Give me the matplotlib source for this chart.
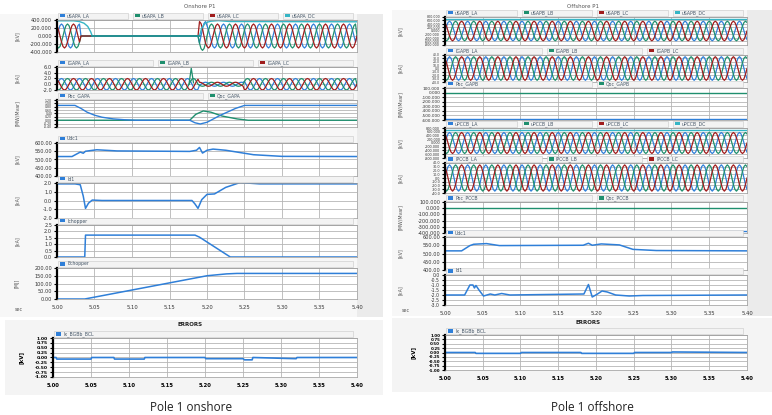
import numpy as np
import matplotlib
matplotlib.use("Agg")
import matplotlib.pyplot as plt
from matplotlib.patches import Rectangle

W, H = 772, 415

# ---- data ----
T_START, T_END = 5.00, 5.40
X_TICKS = [5.00, 5.05, 5.10, 5.15, 5.20, 5.25, 5.30, 5.35, 5.40]
X_LABELS = ["5.00", "5.05", "5.10", "5.15", "5.20", "5.25", "5.30", "5.35", "5.40"]

# one cycle of the ac waveform, 12 samples
WAVE = [0.0, 0.5, 0.87, 1.0, 0.87, 0.5, 0.0, -0.5, -0.87, -1.0, -0.87, -0.5]
PERIOD = 0.024

# onshore
L_V_SEG = [(5.000, 5.031, 300.0), (5.190, 5.200, 360.0), (5.200, 5.400, 300.0)]
L_T_DC = [5.000, 5.022, 5.030, 5.036, 5.041, 5.045, 5.047, 5.190, 5.193, 5.198, 5.205, 5.215, 5.230, 5.400]
L_U_DC = [380, 380, 360, 320, 240, 100, 0, 0, 200, 330, 370, 385, 362, 355]
L_I_SEG = [(5.000, 5.190, 2.0), (5.190, 5.250, 0.7), (5.250, 5.400, 2.0)]
L_I_SPIKE_T = [5.176, 5.179, 5.182]
L_I_SPIKE = [0.0, 5.6, 0.5]
L_T_P = [5.000, 5.024, 5.032, 5.040, 5.050, 5.060, 5.075, 5.090, 5.105, 5.177, 5.184, 5.191, 5.200, 5.218, 5.238, 5.250, 5.400]
L_P = [0.88, 0.88, 0.70, 0.48, 0.30, 0.18, 0.08, 0.03, 0.0, 0.0, -0.15, -0.22, -0.12, 0.30, 0.70, 0.88, 0.88]
L_T_Q = [5.000, 5.177, 5.185, 5.195, 5.205, 5.220, 5.240, 5.255, 5.400]
L_Q = [0.0, 0.0, 0.35, 0.55, 0.48, 0.25, 0.08, 0.0, 0.0]
L_T_UDC = [5.000, 5.020, 5.031, 5.035, 5.038, 5.053, 5.080, 5.177, 5.186, 5.190, 5.194, 5.200, 5.208, 5.225, 5.262, 5.300, 5.400]
L_UDC = [518, 518, 545, 538, 550, 559, 552, 549, 556, 573, 539, 556, 563, 556, 529, 519, 518]
L_T_ID = [5.000, 5.024, 5.031, 5.035, 5.038, 5.042, 5.047, 5.060, 5.180, 5.184, 5.188, 5.193, 5.200, 5.210, 5.225, 5.244, 5.270, 5.400]
L_ID = [1.9, 1.9, 1.8, 0.5, -0.9, -0.3, 0.05, 0.0, 0.0, -0.4, -0.9, 0.1, 0.7, 0.75, 1.5, 2.05, 1.9, 1.9]
L_T_ICH = [5.000, 5.037, 5.038, 5.184, 5.190, 5.231, 5.400]
L_ICH = [0.0, 0.0, 1.71, 1.71, 1.55, 0.0, 0.0]
L_T_ECH = [5.000, 5.037, 5.200, 5.226, 5.240, 5.400]
L_ECH = [0.0, 0.0, 150.0, 162.0, 165.0, 165.0]

# offshore
R_V_AMP = 560.0
R_V_DC = 690.0
R_I_AMP = 35.0
R_P1, R_Q1 = -570.0, 0.0
R_P2, R_Q2 = -370.0, 0.0
R_T_UDC = [5.000, 5.022, 5.033, 5.038, 5.046, 5.055, 5.072, 5.183, 5.190, 5.195, 5.207, 5.231, 5.249, 5.280, 5.400]
R_UDC = [516, 516, 548, 556, 558, 560, 548, 550, 562, 550, 558, 552, 525, 518, 516]
R_T_ID = [5.000, 5.026, 5.033, 5.037, 5.039, 5.041, 5.045, 5.051, 5.060, 5.066, 5.075, 5.086, 5.184, 5.190,
          5.195, 5.202, 5.208, 5.215, 5.226, 5.244, 5.262, 5.400]
R_ID = [-2.0, -2.0, -1.0, -1.0, -1.3, -1.05, -1.5, -2.1, -1.9, -2.0, -1.85, -2.0, -1.9, -0.95,
        -2.2, -1.9, -1.6, -1.7, -2.0, -2.1, -2.05, -2.0]

# bottom error traces (baseline with small dips)
B_L_T = [5.000, 5.004, 5.005, 5.050, 5.051, 5.080, 5.081, 5.120, 5.121, 5.200, 5.201, 5.250, 5.252, 5.262, 5.263, 5.320, 5.321, 5.400]
B_L = [0.0, 0.0, -0.08, -0.08, 0.0, 0.0, -0.08, -0.08, 0.0, 0.0, -0.06, -0.06, -0.12, -0.12, 0.0, -0.06, 0.0, 0.0]
B_R_T = [5.000, 5.040, 5.041, 5.100, 5.101, 5.180, 5.181, 5.250, 5.251, 5.300, 5.301, 5.400]
B_R = [0.0, 0.0, -0.05, -0.05, 0.0, 0.0, -0.05, -0.05, 0.0, 0.0, 0.03, 0.0]

BLUE, GREEN, RED, CYAN = "#2f7fd8", "#1f8f6e", "#a01c1c", "#35b5c5"

fig = plt.figure(figsize=(W / 100, H / 100), dpi=100)
fig.patch.set_facecolor("white")


def frect(x0, y0, x1, y1):
    return [x0 / W, 1 - y1 / H, (x1 - x0) / W, (y1 - y0) / H]


def bg(x0, y0, x1, y1, color):
    fig.patches.append(Rectangle((x0 / W, 1 - y1 / H), (x1 - x0) / W, (y1 - y0) / H,
                                 transform=fig.transFigure, facecolor=color, edgecolor="none", zorder=-5))


def legend_strip(x0, x1, ytop, names, colors):
    n = len(names)
    w = (x1 - x0) / n
    for i, (nm, c) in enumerate(zip(names, colors)):
        bx = x0 + i * w + 1
        fig.patches.append(Rectangle((bx / W, 1 - (ytop - 1) / H), (w - 5) / W, 6 / H,
                                     transform=fig.transFigure, facecolor="#f3f3f3",
                                     edgecolor="#c8c8c8", lw=0.4))
        fig.patches.append(Rectangle(((bx + 2) / W, 1 - (ytop - 2.5) / H), 5 / W, 3.5 / H,
                                     transform=fig.transFigure, facecolor=c, edgecolor="none"))
        fig.text((bx + 9) / W, 1 - (ytop - 4) / H, nm, fontsize=3.3, color="#445566",
                 va="center", ha="left")


def scope(x0, y0, x1, y1, yticks, fmt, ylabel, names, colors, xlabels=False):
    ax = fig.add_axes(frect(x0, y0, x1, y1))
    ax.set_xlim(T_START, T_END)
    ax.set_ylim(yticks[0], yticks[-1])
    ax.set_yticks(yticks)
    # shrink the labels so the dense scales stay readable
    gap = (y1 - y0) / (len(yticks) - 1)
    fs = min(3.6, 0.66 * gap)
    ax.set_yticklabels([fmt % v for v in yticks], fontsize=fs, color="#333333")
    ax.set_xticks(X_TICKS)
    if xlabels:
        ax.set_xticklabels(X_LABELS, fontsize=3.8, color="#333333")
    else:
        ax.set_xticklabels([])
    ax.tick_params(axis="y", length=2, width=0.8, pad=1.5, color="black")
    ax.tick_params(axis="x", length=0, pad=4)
    ax.grid(True, color="#b5b5b5", lw=0.6)
    for s in ("top", "right", "bottom"):
        ax.spines[s].set_color("#999999")
        ax.spines[s].set_linewidth(0.5)
    ax.spines["left"].set_linewidth(1.6)
    ax.spines["left"].set_color("black")
    if ylabel:
        fig.text((x0 - 40 if x0 < 300 else x0 - 45) / W, 1 - ((y0 + y1) / 2) / H, ylabel,
                 fontsize=3.4, rotation=90, va="center", ha="center", color="#555555")
    if names:
        legend_strip(x0, x1, y0, names, colors)
    return ax


def three_phase(segs, period):
    dt = period / len(WAVE)
    n = int(round((T_END - T_START) / dt)) + 1
    t = T_START + np.arange(n) * dt
    base = np.tile(WAVE, n // len(WAVE) + 2)
    amp = np.zeros(n)
    for a, b, v in segs:
        amp[(t >= a) & (t < b)] = v
    return t, [amp * base[k:k + n] for k in (0, 8, 4)]


# group backgrounds
bg(0, 14, 383, 317, "#f7f7f7")
bg(357, 14, 383, 317, "#ebebeb")
bg(392, 10, 772, 316, "#f7f7f7")
bg(747, 10, 772, 316, "#ebebeb")
bg(5, 320, 383, 395, "#f4f4f4")
bg(392, 318, 772, 392, "#f4f4f4")

fig.text(200 / W, 1 - 6 / H, "Onshore P1", fontsize=4, color="#555555", ha="center", va="center")
fig.text(583 / W, 1 - 7 / H, "Offshore P1", fontsize=4, color="#555555", ha="center", va="center")

# ---------------- onshore ----------------
LX0, LX1 = 57, 357
ax = scope(LX0, 20, LX1, 52, [-400, -200, 0, 200, 400], "%.3f", "[kV]",
           ["uSAPA_LA", "uSAPA_LB", "uSAPA_LC", "uSAPA_DC"], [BLUE, GREEN, RED, CYAN])
t, ph = three_phase(L_V_SEG, PERIOD)
for y, c in zip(ph, [BLUE, GREEN, RED]):
    ax.plot(t, y, color=c, lw=0.9)
ax.plot(L_T_DC, L_U_DC, color=CYAN, lw=1.0)
ax.plot([L_T_DC[6], L_T_DC[7]], [0, 0], color="#1f8f8f", lw=1.2)

ax = scope(LX0, 67, LX1, 90, [-2, 0, 2, 4, 6], "%.1f", "[kA]",
           ["IGAPA_LA", "IGAPA_LB", "IGAPA_LC"], [BLUE, GREEN, RED])
t, ph = three_phase(L_I_SEG, PERIOD)
for y, c in zip(ph, [BLUE, GREEN, RED]):
    ax.plot(t, y, color=c, lw=0.9)
ax.plot(L_I_SPIKE_T, L_I_SPIKE, color=GREEN, lw=0.9)

ax = scope(LX0, 100, LX1, 127, [-0.4, -0.2, 0, 0.2, 0.4, 0.6, 0.8, 1.0, 1.2], "%.2f", "[MW/Mvar]",
           ["Poc_GAPA", "Qoc_GAPA"], [BLUE, GREEN])
ax.plot(L_T_Q, L_Q, color=GREEN, lw=1.0)
ax.plot(L_T_P, L_P, color=BLUE, lw=1.0)

ax = scope(LX0, 143, LX1, 176, [400, 450, 500, 550, 600], "%.2f", "[kV]", ["Udc1"], [BLUE])
ax.plot(L_T_UDC, L_UDC, color=BLUE, lw=1.1)

ax = scope(LX0, 183, LX1, 218, [-2, -1, 0, 1, 2], "%.1f", "[kA]", ["Id1"], [BLUE])
ax.plot(L_T_ID, L_ID, color=BLUE, lw=1.1)

ax = scope(LX0, 225, LX1, 257, [0, 0.5, 1.0, 1.5, 2.0, 2.5], "%.1f", "[kA]", ["Ichopper"], [BLUE])
ax.plot(L_T_ICH, L_ICH, color=BLUE, lw=1.1)

ax = scope(LX0, 268, LX1, 299, [0, 50, 100, 150, 200], "%.2f", "[MJ]", ["Echopper"], [BLUE],
           xlabels=True)
ax.plot(L_T_ECH, L_ECH, color=BLUE, lw=1.1)
fig.text(15 / W, 1 - 309 / H, "sec", fontsize=3.5, color="#555555", va="center")

# ---------------- offshore ----------------
RX0, RX1 = 445, 747
ax = scope(RX0, 17, RX1, 45, [-800, -600, -400, -200, 0, 200, 400, 600, 800], "%.3f", "[kV]",
           ["uSAPB_LA", "uSAPB_LB", "uSAPB_LC", "uSAPB_DC"], [BLUE, GREEN, RED, CYAN])
t, ph = three_phase([(T_START, T_END + 1, R_V_AMP)], PERIOD)
for y, c in zip(ph, [BLUE, GREEN, RED]):
    ax.plot(t, y, color=c, lw=0.9)
ax.axhline(R_V_DC, color=CYAN, lw=1.0)

ax = scope(RX0, 55, RX1, 82, [-40, -30, -20, -10, 0, 10, 20, 30, 40], "%.1f", "[kA]",
           ["IGAPB_LA", "IGAPB_LB", "IGAPB_LC"], [BLUE, GREEN, RED])
t, ph = three_phase([(T_START, T_END + 1, R_I_AMP)], PERIOD)
for y, c in zip(ph, [BLUE, GREEN, RED]):
    ax.plot(t, y, color=c, lw=0.9)

ax = scope(RX0, 88, RX1, 120, [-600, -500, -400, -300, -200, -100, 0, 100], "%.3f", "[MW/Mvar]",
           ["Poc_GAPB", "Qoc_GAPB"], [BLUE, GREEN])
ax.axhline(R_Q1, color=GREEN, lw=1.0)
ax.axhline(R_P1, color=BLUE, lw=1.0)

ax = scope(RX0, 128, RX1, 158, [-800, -600, -400, -200, 0, 200, 400, 600, 800], "%.3f", "[kV]",
           ["uPCCB_LA", "uPCCB_LB", "uPCCB_LC", "uPCCB_DC"], [BLUE, GREEN, RED, CYAN])
t, ph = three_phase([(T_START, T_END + 1, R_V_AMP)], PERIOD)
for y, c in zip(ph, [BLUE, GREEN, RED]):
    ax.plot(t, y, color=c, lw=0.9)
ax.axhline(R_V_DC, color=CYAN, lw=1.0)

ax = scope(RX0, 163, RX1, 193, [-40, -30, -20, -10, 0, 10, 20, 30, 40], "%.1f", "[kA]",
           ["IPCCB_LA", "IPCCB_LB", "IPCCB_LC"], [BLUE, GREEN, RED])
t, ph = three_phase([(T_START, T_END + 1, R_I_AMP)], PERIOD)
for y, c in zip(ph, [BLUE, GREEN, RED]):
    ax.plot(t, y, color=c, lw=0.9)

ax = scope(RX0, 202, RX1, 233, [-400, -300, -200, -100, 0, 100], "%.3f", "[MW/Mvar]",
           ["Poc_PCCB", "Qoc_PCCB"], [BLUE, GREEN])
ax.axhline(R_Q2, color=GREEN, lw=1.0)
ax.axhline(R_P2, color=BLUE, lw=1.0)

ax = scope(RX0, 237, RX1, 270, [400, 450, 500, 550, 600], "%.2f", "[kV]", ["Udc1"], [BLUE])
ax.plot(R_T_UDC, R_UDC, color=BLUE, lw=1.1)

ax = scope(RX0, 275, RX1, 305, [-3.0, -2.5, -2.0, -1.5, -1.0, -0.5, 0.0], "%.1f", "[kA]", ["Id1"], [BLUE],
           xlabels=True)
ax.plot(R_T_ID, R_ID, color=BLUE, lw=1.1)
fig.text(402 / W, 1 - 310 / H, "sec", fontsize=3.5, color="#555555", va="center")

# ---------------- bottom error panels ----------------
B_TICKS = [-1.0, -0.75, -0.5, -0.25, 0.0, 0.25, 0.5, 0.75, 1.0]
for (x0, y0, x1, y1, tt, vv, title_x) in [(53, 338, 357, 377, B_L_T, B_L, 190),
                                         (445, 335, 747, 370, B_R_T, B_R, 588)]:
    ax = scope(x0, y0, x1, y1, B_TICKS, "%.2f", "", ["Ix_BGBb_BCL"], [BLUE], xlabels=True)
    for lab in ax.get_yticklabels() + ax.get_xticklabels():
        lab.set_fontweight("bold")
        lab.set_color("black")
    ax.plot(tt, vv, color=BLUE, lw=1.2)
    fig.text((x0 - 32) / W, 1 - ((y0 + y1) / 2) / H, "[kV]", fontsize=4, rotation=90,
             va="center", ha="center", fontweight="bold")
    fig.text(title_x / W, 1 - (y0 - 13) / H, "ERRORS", fontsize=4, fontweight="bold",
             ha="center", va="center", color="#222222")

fig.text(191 / W, 1 - 407 / H, "Pole 1 onshore", fontsize=8.5, family="Open Sans",
         ha="center", va="center", color="#222222")
fig.text(592 / W, 1 - 407 / H, "Pole 1 offshore", fontsize=8.5, family="Open Sans",
         ha="center", va="center", color="#222222")

fig.savefig("out.png", dpi=100)
